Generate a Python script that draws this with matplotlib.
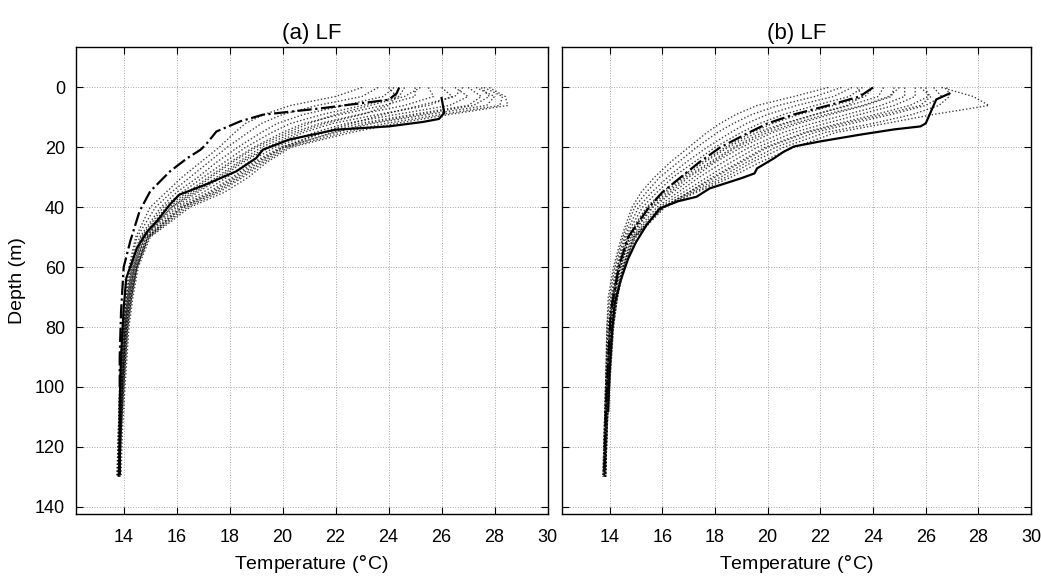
import matplotlib
matplotlib.use('Agg')
import matplotlib.pyplot as plt

plt.rcParams['font.family'] = ['Liberation Sans', 'DejaVu Sans']

# common depth grid for the dotted profiles (m)
depth = [0, 3, 6, 9, 12, 15, 20, 25, 30, 35, 40, 50, 60, 70, 80, 100, 115, 130]

# panel (a) dotted profiles, temperature (degC) at each depth
prof_a = [
    [23.0, 22.0, 20.3, 19.3, 18.6, 18.2, 17.6, 16.9, 16.2, 15.6, 15.0, 14.45, 14.2, 14.05, 13.95, 13.85, 13.8, 13.75],
    [23.6, 23.0, 21.3, 20.0, 19.2, 18.7, 17.9, 17.2, 16.5, 15.8, 15.2, 14.5, 14.25, 14.1, 14.0, 13.85, 13.8, 13.75],
    [24.2, 23.8, 22.3, 20.8, 19.8, 19.2, 18.3, 17.5, 16.8, 16.0, 15.4, 14.6, 14.3, 14.1, 14.0, 13.9, 13.8, 13.8],
    [24.6, 24.4, 23.0, 21.5, 20.3, 19.6, 18.6, 17.8, 17.0, 16.2, 15.5, 14.65, 14.3, 14.15, 14.0, 13.9, 13.85, 13.8],
    [25.0, 25.0, 23.8, 22.2, 20.8, 20.0, 18.9, 18.0, 17.2, 16.4, 15.6, 14.7, 14.35, 14.15, 14.05, 13.9, 13.85, 13.8],
    [25.5, 25.7, 24.6, 22.9, 21.4, 20.4, 19.2, 18.3, 17.5, 16.6, 15.8, 14.75, 14.4, 14.2, 14.05, 13.95, 13.85, 13.8],
    [26.0, 26.4, 25.5, 23.6, 21.9, 20.8, 19.5, 18.5, 17.7, 16.8, 15.9, 14.8, 14.4, 14.2, 14.1, 13.95, 13.85, 13.8],
    [26.5, 27.0, 26.3, 24.3, 22.4, 21.2, 19.7, 18.7, 17.9, 17.0, 16.0, 14.85, 14.45, 14.25, 14.1, 13.95, 13.9, 13.8],
    [27.0, 27.5, 27.0, 24.9, 22.9, 21.6, 19.9, 18.9, 18.1, 17.2, 16.1, 14.9, 14.45, 14.25, 14.1, 13.95, 13.9, 13.85],
    [27.3, 28.0, 27.7, 25.5, 23.4, 22.0, 20.0, 19.1, 18.3, 17.4, 16.2, 14.9, 14.5, 14.3, 14.15, 14.0, 13.9, 13.85],
    [27.6, 28.3, 28.2, 26.0, 23.9, 22.3, 20.2, 19.3, 18.5, 17.6, 16.4, 14.95, 14.5, 14.3, 14.15, 14.0, 13.9, 13.85],
    [27.8, 28.4, 28.5, 26.3, 24.3, 22.6, 20.3, 19.4, 18.7, 17.8, 16.5, 15.0, 14.55, 14.35, 14.2, 14.05, 13.95, 13.9],
    [24.0, 24.3, 24.0, 23.0, 21.6, 20.6, 19.4, 18.4, 17.6, 16.7, 15.8, 14.8, 14.4, 14.2, 14.05, 13.95, 13.85, 13.8],
    [26.8, 26.5, 25.2, 23.8, 22.6, 21.5, 20.0, 19.0, 18.2, 17.3, 16.2, 14.9, 14.5, 14.25, 14.1, 13.95, 13.9, 13.85],
    [25.2, 24.6, 23.3, 22.0, 21.0, 20.2, 19.0, 18.1, 17.3, 16.5, 15.7, 14.7, 14.35, 14.15, 14.05, 13.9, 13.85, 13.8],
    [27.5, 27.8, 27.2, 25.2, 23.2, 21.9, 20.1, 19.2, 18.4, 17.5, 16.3, 14.95, 14.5, 14.3, 14.15, 14.0, 13.9, 13.85],
]

# panel (b) dotted profiles
prof_b = [
    [22.3, 21.0, 19.6, 18.8, 18.2, 17.7, 17.0, 16.3, 15.7, 15.2, 14.85, 14.45, 14.15, 13.95, 13.9, 13.85, 13.8, 13.75],
    [22.8, 21.8, 20.4, 19.4, 18.7, 18.1, 17.3, 16.6, 15.9, 15.4, 14.95, 14.5, 14.2, 14.0, 13.9, 13.85, 13.8, 13.75],
    [23.2, 22.5, 21.1, 20.0, 19.2, 18.6, 17.7, 16.9, 16.2, 15.6, 15.1, 14.55, 14.25, 14.05, 13.95, 13.85, 13.8, 13.75],
    [23.6, 23.1, 21.8, 20.6, 19.7, 19.0, 18.0, 17.2, 16.4, 15.8, 15.25, 14.6, 14.3, 14.1, 13.95, 13.85, 13.8, 13.8],
    [24.0, 23.7, 22.5, 21.2, 20.2, 19.4, 18.4, 17.5, 16.7, 16.0, 15.4, 14.65, 14.3, 14.1, 14.0, 13.9, 13.85, 13.8],
    [24.4, 24.2, 23.1, 21.8, 20.7, 19.8, 18.7, 17.8, 16.9, 16.2, 15.5, 14.7, 14.35, 14.15, 14.0, 13.9, 13.85, 13.8],
    [24.8, 24.7, 23.7, 22.4, 21.2, 20.2, 19.0, 18.0, 17.2, 16.4, 15.65, 14.75, 14.4, 14.15, 14.05, 13.9, 13.85, 13.8],
    [25.2, 25.2, 24.3, 23.0, 21.7, 20.6, 19.3, 18.3, 17.4, 16.6, 15.8, 14.8, 14.4, 14.2, 14.05, 13.9, 13.85, 13.8],
    [25.6, 25.6, 24.8, 23.5, 22.2, 21.0, 19.6, 18.6, 17.7, 16.8, 15.9, 14.85, 14.45, 14.2, 14.1, 13.95, 13.9, 13.8],
    [26.0, 26.1, 25.4, 24.1, 22.7, 21.4, 19.9, 18.9, 17.9, 17.0, 16.0, 14.9, 14.5, 14.25, 14.1, 13.95, 13.9, 13.85],
    [26.3, 26.6, 26.0, 24.7, 23.2, 21.8, 20.3, 19.2, 18.2, 17.1, 16.0, 14.95, 14.5, 14.3, 14.1, 13.95, 13.9, 13.85],
    [26.6, 27.8, 28.4, 26.3, 24.5, 22.6, 21.0, 19.7, 18.6, 17.3, 16.1, 15.0, 14.55, 14.3, 14.15, 14.0, 13.9, 13.85],
    [26.8, 26.9, 26.5, 25.5, 24.0, 22.2, 20.6, 19.4, 18.4, 17.2, 16.05, 14.95, 14.55, 14.3, 14.15, 14.0, 13.9, 13.85],
    [23.4, 23.6, 23.0, 21.8, 20.6, 19.6, 18.5, 17.6, 16.8, 16.1, 15.45, 14.7, 14.35, 14.1, 14.0, 13.9, 13.85, 13.8],
    [25.0, 24.6, 23.6, 22.2, 21.0, 20.0, 18.8, 17.9, 17.0, 16.3, 15.6, 14.75, 14.4, 14.15, 14.05, 13.9, 13.85, 13.8],
    [25.8, 26.2, 25.8, 24.4, 22.9, 21.5, 20.0, 19.0, 18.0, 17.0, 16.05, 14.9, 14.5, 14.25, 14.1, 13.95, 13.9, 13.85],
]

# solid and dash-dot profiles
sol_a_d = [3.5, 6, 8.5, 10.5, 11.5, 13, 14.1, 17.4, 20.8, 23.6, 28, 32.4, 35.8, 39, 44.7, 48, 53.6, 63.6, 73.6, 90, 105, 120, 129]
sol_a_t = [26.0, 26.05, 26.1, 25.9, 25.3, 24.0, 22.0, 20.25, 19.25, 19.0, 18.25, 17.1, 16.1, 15.75, 15.25, 14.9, 14.5, 14.1, 14.0, 13.9, 13.85, 13.85, 13.85]
dd_a_d = [0, 2, 4.1, 6.9, 9.1, 11.3, 14.7, 19.1, 20.8, 23.6, 28, 34.7, 41.3, 51.3, 60, 75, 90, 100]
dd_a_t = [24.4, 24.3, 24.0, 21.5, 19.25, 18.4, 17.5, 17.1, 16.9, 16.4, 15.75, 15.0, 14.6, 14.25, 14.0, 13.9, 13.85, 13.85]

sol_b_d = [2, 4, 6, 8, 10, 12, 13, 14, 15.7, 18, 19.7, 21.5, 23.6, 27, 28.7, 30.3, 33.7, 36.5, 38, 40.4, 46, 51.7, 57.3, 65, 72, 81, 95, 108]
sol_b_t = [26.9, 26.4, 26.3, 26.2, 26.1, 26.0, 25.8, 24.8, 23.55, 22.0, 21.0, 20.6, 20.25, 19.6, 19.5, 19.0, 17.8, 17.3, 16.6, 15.9, 15.4, 15.0, 14.7, 14.4, 14.2, 14.1, 14.0, 13.95]
dd_b_d = [0, 3, 6, 9, 12, 15, 20, 25, 30, 35, 40, 50, 60, 75, 90, 110, 128]
dd_b_t = [24.0, 23.5, 22.3, 21.0, 20.0, 19.3, 18.2, 17.4, 16.7, 16.0, 15.5, 14.7, 14.35, 14.05, 13.95, 13.85, 13.8]

xticks = [14, 16, 18, 20, 22, 24, 26, 28, 30]
yticks = [0, 20, 40, 60, 80, 100, 120, 140]


def set_ax(ax, title, ylab=True):
    ax.set_xlim(12.2, 30)
    ax.set_ylim(142.5, -13.5)
    ax.set_xticks(xticks)
    ax.set_yticks(yticks)
    ax.grid(True, ls=':', lw=0.7, color='0.65')
    ax.tick_params(direction='in', top=True, right=True, length=5, width=0.8,
                   labelsize=13)
    ax.tick_params(axis='x', pad=11)
    ax.tick_params(axis='y', pad=8)
    for s in ax.spines.values():
        s.set_linewidth(1.0)
    ax.set_title(title, fontsize=16, pad=6)
    ax.set_xlabel('Temperature ($\\degree$C)', fontsize=14, labelpad=5)
    if ylab:
        ax.set_ylabel('Depth (m)', fontsize=14, labelpad=6)
    else:
        ax.set_yticklabels([])


fig = plt.figure(figsize=(10.41, 5.81), dpi=100)

ax1 = fig.add_axes([0.073, 0.115, 0.453, 0.804])
set_ax(ax1, '(a) LF')
for p in prof_a:
    ax1.plot(p, depth, ls=(0, (1, 1.5)), lw=1.0, c='k', alpha=0.75)
ax1.plot(dd_a_t, dd_a_d, ls='-.', lw=1.6, c='k')
ax1.plot(sol_a_t, sol_a_d, ls='-', lw=1.6, c='k')

ax2 = fig.add_axes([0.540, 0.115, 0.4505, 0.804])
set_ax(ax2, '(b) LF', ylab=False)
for p in prof_b:
    ax2.plot(p, depth, ls=(0, (1, 1.5)), lw=1.0, c='k', alpha=0.75)
ax2.plot(dd_b_t, dd_b_d, ls='-.', lw=1.6, c='k')
ax2.plot(sol_b_t, sol_b_d, ls='-', lw=1.6, c='k')

plt.savefig('out.png', dpi=100)
